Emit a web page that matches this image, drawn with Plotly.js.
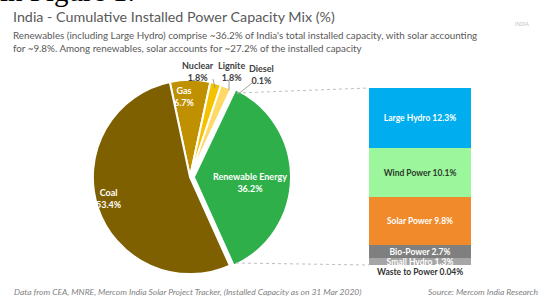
<!DOCTYPE html>
<html>
<head>
<meta charset="utf-8">
<script src="https://cdn.plot.ly/plotly-3.0.1.min.js"></script>
<style>html,body{margin:0;padding:0;background:#fff;}#chart{width:543px;height:297px;}</style>
</head>
<body>
<div id="chart"></div>
<script>
// ---- Data ----
const pieLabels = ["Gas", "Nuclear", "Lignite", "Diesel", "Renewable Energy", "Coal"];
const pieValues = [6.7, 1.8, 1.8, 0.1, 36.2, 53.4];
const pieColors = ["#BF9000", "#F5C200", "#FFD966", "#FFE699", "#2EAF4A", "#7F6000"];

const barLabels = ["Waste to Power", "Small Hydro", "Bio-Power", "Solar Power", "Wind Power", "Large Hydro"];
const barValues = [0.04, 1.3, 2.7, 9.8, 10.1, 12.3];
const barColors = ["#D9D9D9", "#A6A6A6", "#7F7F7F", "#F08A2A", "#9CF79C", "#00AEEF"];
const barTextColors = ["#333333", "#FFFFFF", "#FFFFFF", "#FFFFFF", "#2B3A2B", "#FFFFFF"];

const titleText = "India - Cumulative Installed Power Capacity Mix (%)";
const subtitleText = "Renewables (including Large Hydro) comprise ~36.2% of India's total installed capacity, with solar accounting<br>for ~9.8%. Among renewables, solar accounts for ~27.2% of the installed capacity";
const footLeft = "Data from CEA, MNRE, Mercom India Solar Project Tracker, (Installed Capacity as on 31 Mar 2020)";
const footRight = "Source: Mercom India Research";

// ---- helpers for pixel->paper ----
const W = 543, H = 297;
const px = x => x / W;
const py = y => 1 - y / H;

const FONT = "Lato, 'Open Sans', sans-serif";

const pieTrace = {
  type: "pie",
  labels: pieLabels,
  values: pieValues,
  sort: false,
  direction: "clockwise",
  rotation: -12,
  pull: pieLabels.map(l => l === "Renewable Energy" ? 0.04 : 0),
  marker: {colors: pieColors, line: {color: "#FFFFFF", width: 2}},
  textinfo: "none",
  hoverinfo: "none",
  showlegend: false,
  domain: {x: [px(88), px(292)], y: [py(278), py(76)]}
};

const barTraces = barLabels.map((lab, i) => ({
  type: "bar",
  x: ["RE"],
  y: [barValues[i]],
  name: lab,
  marker: {color: barColors[i], line: {width: 0}},
  text: i === 0 ? [""] : ["<b>" + lab + " " + barValues[i] + "%</b>"],
  textposition: "inside",
  insidetextanchor: "middle",
  constraintext: "none",
  textfont: {family: FONT, size: 8.5, color: barTextColors[i]},
  hoverinfo: "none",
  showlegend: false,
  xaxis: "x", yaxis: "y"
}));

const barTotal = barValues.reduce((a, b) => a + b, 0);

// pie label placements (pixel positions of label centres)
const pieLblPos = [
  {i: 0, x: 184, y: 97, c: "#FFFFFF"},
  {i: 4, x: 250, y: 182, c: "#FFFFFF"},
  {i: 5, x: 109, y: 198, c: "#FFFFFF"},
  {i: 1, x: 198, y: 71, c: "#404040"},
  {i: 2, x: 231, y: 71, c: "#404040"},
  {i: 3, x: 261, y: 74, c: "#404040"}
];
const leaders = [
  {ax: 213, ay: 79, bx: 215, by: 88},
  {ax: 229, ay: 80, bx: 229, by: 90},
  {ax: 252, ay: 83, bx: 237, by: 95}
];

const annotations = [
  {text: "in Figure 1:", x: -2/W, y: py(8.5), xref: "paper", yref: "paper", xanchor: "left", yanchor: "bottom",
   showarrow: false, font: {family: "'Liberation Serif', 'DejaVu Serif', serif", size: 29, color: "#000"}},
  {text: titleText, x: px(11), y: py(17), xref: "paper", yref: "paper", xanchor: "left", yanchor: "middle",
   showarrow: false, font: {family: FONT, size: 14.3, color: "#595959"}},
  {text: subtitleText, x: px(11), y: py(27), xref: "paper", yref: "paper", xanchor: "left", yanchor: "top", align: "left",
   showarrow: false, font: {family: FONT, size: 9.8, color: "#595959"}},
  {text: "INDIA", x: px(522), y: py(24), xref: "paper", yref: "paper", xanchor: "center", yanchor: "middle",
   showarrow: false, font: {family: FONT, size: 5, color: "#BFBFBF"}},
  {text: "<i>" + footLeft + "</i>", x: px(12), y: py(292), xref: "paper", yref: "paper", xanchor: "left", yanchor: "middle",
   showarrow: false, font: {family: FONT, size: 8.5, color: "#7F7F7F"}},
  {text: "<i>" + footRight + "</i>", x: px(540), y: py(292), xref: "paper", yref: "paper", xanchor: "right", yanchor: "middle",
   showarrow: false, font: {family: FONT, size: 8.5, color: "#7F7F7F"}},
  {text: "<b>" + barLabels[0] + " " + barValues[0] + "%</b>", x: "RE", y: 0, xref: "x", yref: "y", yanchor: "top", xanchor: "center",
   showarrow: false, yshift: 0, font: {family: FONT, size: 8.5, color: "#333333"}}
];
pieLblPos.forEach(o => {
  annotations.push({
    text: "<b>" + pieLabels[o.i] + "<br>" + pieValues[o.i].toFixed(1) + "%</b>",
    x: px(o.x), y: py(o.y), xref: "paper", yref: "paper", xanchor: "center", yanchor: "middle",
    showarrow: false, font: {family: FONT, size: 9, color: o.c}
  });
});

const shapes = [
  {type: "line", xref: "paper", yref: "paper", x0: px(237), y0: py(93), x1: px(369), y1: py(88),
   line: {color: "#BFBFBF", width: 1, dash: "dot"}},
  {type: "line", xref: "paper", yref: "paper", x0: px(236), y0: py(263), x1: px(369), y1: py(265),
   line: {color: "#BFBFBF", width: 1, dash: "dot"}}
];
leaders.forEach(o => {
  shapes.push({type: "line", xref: "paper", yref: "paper", x0: px(o.ax), y0: py(o.ay), x1: px(o.bx), y1: py(o.by),
    line: {color: "#8C8C8C", width: 0.8}});
});

const layout = {
  width: W, height: H,
  margin: {l: 0, r: 0, t: 0, b: 0},
  paper_bgcolor: "#FFFFFF", plot_bgcolor: "rgba(0,0,0,0)",
  barmode: "stack", bargap: 0,
  xaxis: {domain: [px(369), px(471)], range: [-0.5, 0.5], visible: false, fixedrange: true},
  yaxis: {domain: [py(265), py(88)], range: [0, barTotal], visible: false, fixedrange: true},
  annotations: annotations,
  shapes: shapes,
  showlegend: false
};

Plotly.newPlot("chart", [pieTrace, ...barTraces], layout, {displayModeBar: false, staticPlot: true});
</script>
</body>
</html>
